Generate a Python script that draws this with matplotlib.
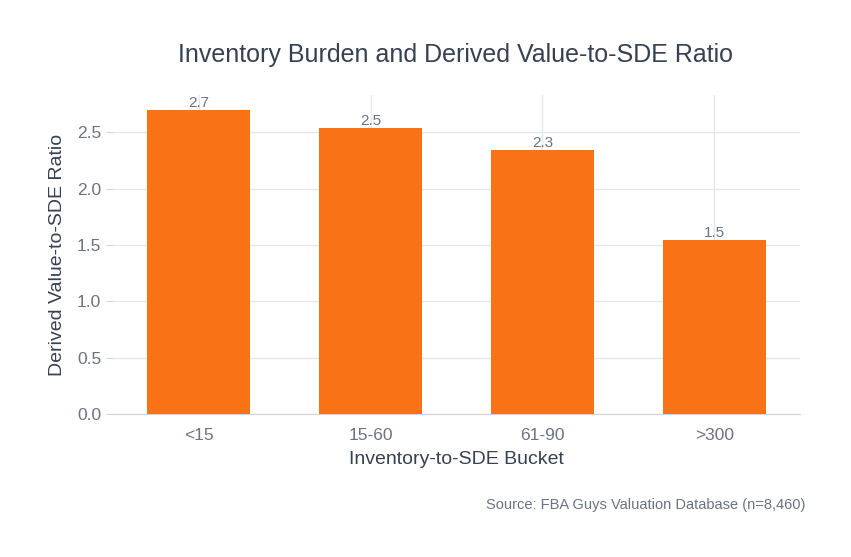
import matplotlib
matplotlib.use("Agg")
import matplotlib.pyplot as plt

categories = ["<15", "15-60", "61-90", ">300"]
values = [2.70, 2.54, 2.34, 1.54]

plt.rcParams['font.family'] = ['Liberation Sans', 'DejaVu Sans']
fig = plt.figure(figsize=(8.51, 5.57), dpi=100)
ax = fig.add_axes([113/851, 1-414/557, 687/851, 319/557])
x = range(len(categories))
bars = ax.bar(x, values, width=0.6, color="#f97316", zorder=3)
for b, v in zip(bars, values):
    ax.text(b.get_x()+b.get_width()/2, v, f"{v:.1f}", ha="center", va="bottom",
            fontsize=11, color="#6b7280")
ax.set_xticks(list(x))
ax.set_xticklabels(categories)
ax.set_ylim(0, 2.83)
ax.set_xlim(-0.5, 3.5)
ax.set_yticks([0, 0.5, 1.0, 1.5, 2.0, 2.5])
ax.set_yticklabels(["0.0", "0.5", "1.0", "1.5", "2.0", "2.5"])
ax.grid(True, color="#e5e7eb", linewidth=1, zorder=0)
for s in ["top", "right", "left"]:
    ax.spines[s].set_visible(False)
ax.spines["bottom"].set_color("#d1d5db")
ax.tick_params(colors="#d1d5db", labelcolor="#6b7280", labelsize=12.5, length=5)
ax.tick_params(axis="x", length=0, pad=10)
ax.set_xlabel("Inventory-to-SDE Bucket", fontsize=14, color="#374151", labelpad=6)
ax.set_ylabel("Derived Value-to-SDE Ratio", fontsize=14, color="#374151", labelpad=8)
fig.text(456/851, 1-55/557, "Inventory Burden and Derived Value-to-SDE Ratio",
         ha="center", va="center", fontsize=18, color="#374151")
fig.text(805/851, 1-505/557, "Source: FBA Guys Valuation Database (n=8,460)",
         ha="right", va="center", fontsize=10.5, color="#6b7280")
fig.savefig("out.png", dpi=100)
